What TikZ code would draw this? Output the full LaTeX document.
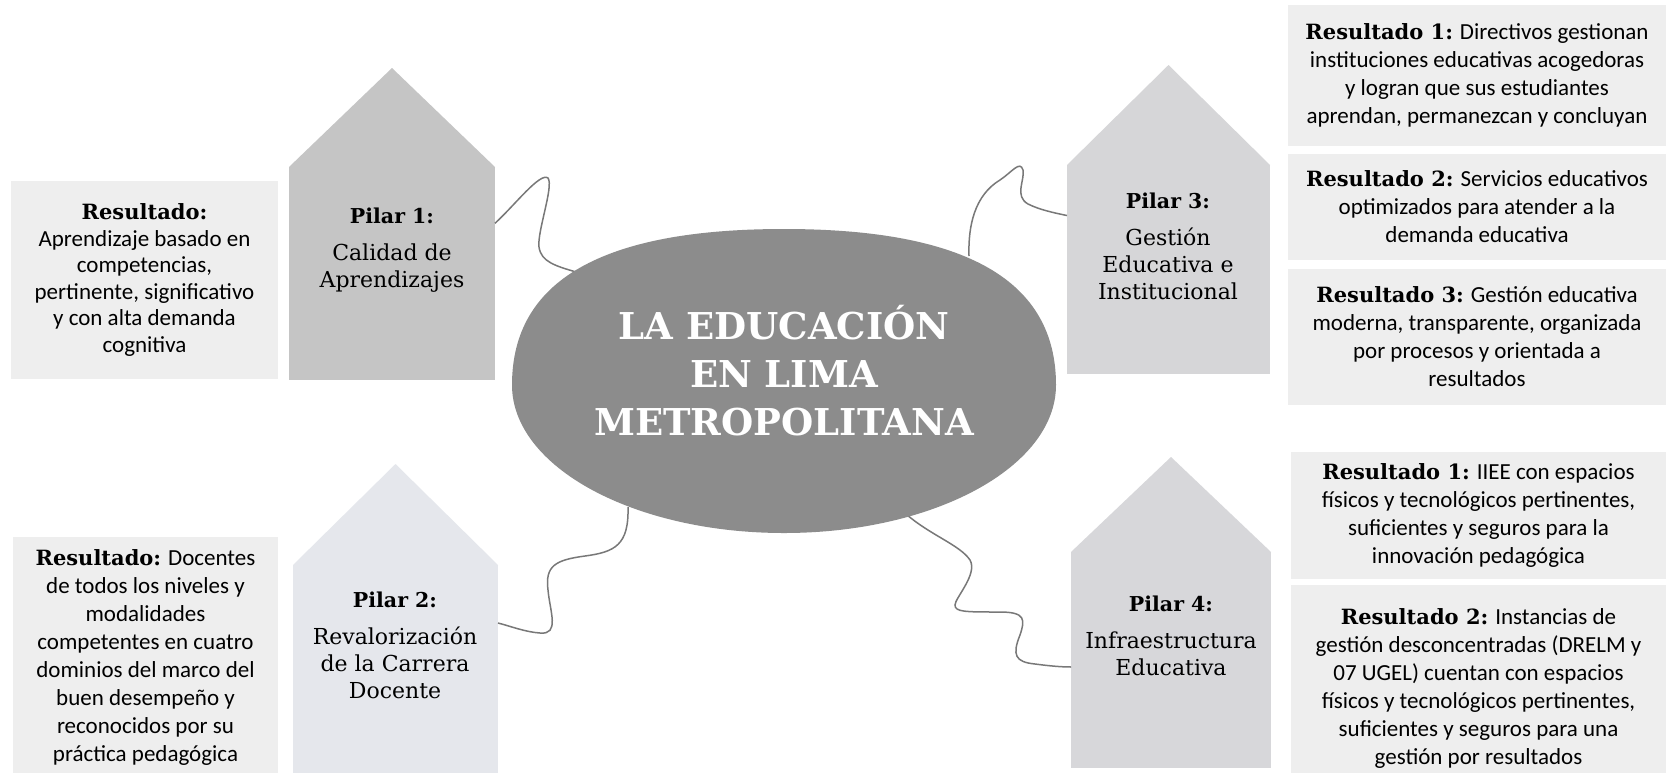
\documentclass[tikz,border=0pt]{standalone}
\usepackage{fontspec}
\setmainfont{DejaVu Serif}
\newfontfamily\carl{Carlito}

\definecolor{boxgray}{HTML}{EEEEEE}
\definecolor{hausA}{HTML}{C5C5C5}
\definecolor{hausB}{HTML}{E5E7EC}
\definecolor{hausC}{HTML}{D6D6D8}
\definecolor{hausD}{HTML}{D7D7DA}
\definecolor{ellgray}{HTML}{8C8C8C}
\definecolor{wiregray}{HTML}{787878}

\newcommand{\resl}[1]{{\rmfamily\bfseries\fontsize{21}{28}\selectfont #1}}
\newcommand{\pilartitle}[1]{{\bfseries\fontsize{20.5}{27}\selectfont #1}}

\tikzset{
  resbox/.style={fill=boxgray, align=center, inner sep=0pt, outer sep=0pt,
    font=\carl\fontsize{23}{28}\selectfont},
  housebody/.style={fill=#1, inner sep=0pt, outer sep=0pt},
  pilartxt/.style={align=center, font=\fontsize{22}{27}\selectfont},
  wire/.style={draw=wiregray, line width=1.5pt},
}

\begin{document}
\begin{tikzpicture}[x=1pt,y=-1pt]
  \fill[white] (0,0) rectangle (1666,772);
  \useasboundingbox (0,0) rectangle (1666,772);

  % resultados
  \node[resbox, minimum width=267, minimum height=198,
    font=\carl\fontsize{23}{26.5}\selectfont] (r0) at (144.5,280)
    {\resl{Resultado:}\\Aprendizaje basado en\\competencias,\\pertinente, significativo\\y con alta demanda\\cognitiva};
  \node[resbox, minimum width=265, minimum height=240] (r5) at (145.5,657)
    {\resl{Resultado:} Docentes\\de todos los niveles y\\modalidades\\competentes en cuatro\\dominios del marco del\\buen desempeño y\\reconocidos por su\\práctica pedagógica};
  \node[resbox, minimum width=378, minimum height=141] (r31) at (1477,75.5)
    {\resl{Resultado 1:} Directivos gestionan\\instituciones educativas acogedoras\\y logran que sus estudiantes\\aprendan, permanezcan y concluyan};
  \node[resbox, minimum width=378, minimum height=106] (r32) at (1477,207)
    {\resl{Resultado 2:} Servicios educativos\\optimizados para atender a la\\demanda educativa};
  \node[resbox, minimum width=378, minimum height=136] (r33) at (1477,337)
    {\resl{Resultado 3:} Gestión educativa\\moderna, transparente, organizada\\por procesos y orientada a\\resultados};
  \node[resbox, minimum width=375, minimum height=127] (r41) at (1478.5,515.5)
    {\resl{Resultado 1:} IIEE con espacios\\físicos y tecnológicos pertinentes,\\suficientes y seguros para la\\innovación pedagógica};
  \node[resbox, minimum width=375, minimum height=206] (r42) at (1478.5,688)
    {\resl{Resultado 2:} Instancias de\\gestión desconcentradas (DRELM y\\07 UGEL) cuentan con espacios\\físicos y tecnológicos pertinentes,\\suficientes y seguros para una\\gestión por resultados};

  % pilares
  \node[housebody=hausA, minimum width=206, minimum height=213] (p1) at (392,273.5) {};
  \fill[hausA] (p1.north west) -- ([yshift=99pt]p1.north) -- (p1.north east) -- cycle;
  \node[housebody=hausB, minimum width=205, minimum height=225] (p2) at (395.5,677.5) {};
  \fill[hausB] (p2.north west) -- ([yshift=101pt]p2.north) -- (p2.north east) -- cycle;
  \node[housebody=hausC, minimum width=203, minimum height=209] (p3) at (1168.5,269.5) {};
  \fill[hausC] (p3.north west) -- ([yshift=100pt]p3.north) -- (p3.north east) -- cycle;
  \node[housebody=hausD, minimum width=200, minimum height=216] (p4) at (1171,660) {};
  \fill[hausD] (p4.north west) -- ([yshift=95pt]p4.north) -- (p4.north east) -- cycle;

  \node[pilartxt] (t1) at (392,250) {\pilartitle{Pilar 1:}\\[10pt]Calidad de\\Aprendizajes};
  \node[pilartxt] (t2) at (395,645) {\pilartitle{Pilar 2:}\\[10pt]Revalorización\\de la Carrera\\Docente};
  \node[pilartxt] (t3) at (1168,246) {\pilartitle{Pilar 3:}\\[10pt]Gestión\\Educativa e\\Institucional};
  \node[pilartxt] (t4) at (1171,636) {\pilartitle{Pilar 4:}\\[10pt]Infraestructura\\Educativa};

  % puntos del borde del ovalo
  \coordinate (e1) at (576,272);
  \coordinate (e3) at (969,256);
  \coordinate (e2) at (628,507);
  \coordinate (e4) at (906,514);

  % conectores
  \draw[wire] (p1.26) .. controls (515,205) and (540,172) .. (548,178)
    .. controls (554,186) and (537,232) .. (539,247)
    .. controls (541,262) and (556,266) .. (e1);
  \draw[wire] (e3) .. controls (968,225) and (975,195) .. (1000,180)
    .. controls (1012,172) and (1020,160) .. (1023,170)
    .. controls (1025,180) and (1014,196) .. (1028,204)
    .. controls (1040,210) and (1055,213) .. (p3.152);
  \draw[wire] (e2) .. controls (629,545) and (615,552) .. (585,556)
    .. controls (555,560) and (545,566) .. (548,590)
    .. controls (550,612) and (560,635) .. (540,633)
    .. controls (525,632) and (510,626) .. (p2.28);
  \draw[wire] (e4) .. controls (930,535) and (960,545) .. (970,560)
    .. controls (978,574) and (955,598) .. (955,605)
    .. controls (955,612) and (965,612) .. (1000,612)
    .. controls (1026,612) and (1025,620) .. (1020,635)
    .. controls (1012,655) and (1015,662) .. (1035,664)
    .. controls (1050,666) and (1062,667) .. (p4.184);

  % centro
  \fill[ellgray] (512,385) .. controls (512,280.5) and (602,229) .. (784,229)
    .. controls (966,229) and (1056,280.5) .. (1056,385)
    .. controls (1056,467) and (934,533) .. (784,533)
    .. controls (634,533) and (512,467) .. (512,385) -- cycle;
  \node[align=center, text=white, font=\bfseries\fontsize{37}{48}\selectfont]
    (ell) at (784,371) {LA EDUCACIÓN\\EN LIMA\\METROPOLITANA};
\end{tikzpicture}
\end{document}
